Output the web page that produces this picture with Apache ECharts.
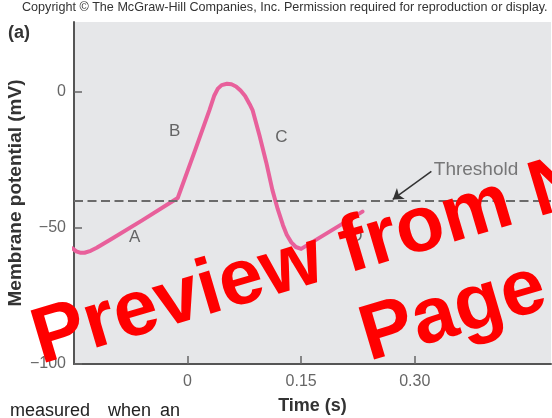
<!DOCTYPE html>
<html>
<head>
<meta charset="utf-8">
<script src="https://cdn.jsdelivr.net/npm/echarts@6/dist/echarts.min.js"></script>
<style>
  html, body { margin: 0; padding: 0; background: #fff; }
  #chart { width: 552px; height: 418px; }
</style>
</head>
<body>
<div id="chart"></div>
<script>
// action potential trace: time (s) and membrane potential (mV)
var times = [-0.152, -0.147, -0.142, -0.136, -0.128, -0.12, -0.10, -0.06, -0.013,
  0.01, 0.029, 0.035, 0.040, 0.045, 0.052, 0.058, 0.064, 0.070, 0.076, 0.082,
  0.086, 0.095, 0.104, 0.112, 0.119, 0.126, 0.131, 0.137, 0.143, 0.150, 0.231];
var potentials = [-57.5, -58.6, -59.1, -59.1, -58.4, -57.3, -54.0, -47.2, -39,
  -21.4, -6.6, -1.5, 1.2, 2.5, 3, 2.8, 2.0, 0.5, -1.5, -4.5,
  -6.8, -16, -26, -36, -43, -49, -52.5, -55.3, -57, -57.7, -44];

var threshold = -40;

// phase letters
var phaseNames = ['A', 'B', 'C', 'D'];
var phaseTimes = [-0.070, -0.017, 0.124, 0.223];
var phaseValues = [-53.3, -14.6, -16.8, -53];

// threshold callout
var calloutText = 'Threshold';
var calloutAt = [0.381, -28.5];
var arrowFrom = [0.322, -29.2];
var arrowTo = [0.271, -39.5];

var xTicks = [0, 0.15, 0.3];
var xTickLabels = ['0', '0.15', '0.30'];
var yTicks = [0, -50, -100];
var yTickLabels = ['0', '\u221250', '\u2212100'];

var font = '"Liberation Sans", Arial, Helvetica, sans-serif';

var trace = times.map(function (t, i) { return [t, potentials[i]]; });
var letters = phaseNames.map(function (n, i) {
  return { name: n, value: [phaseTimes[i], phaseValues[i]] };
});
letters.push({
  name: calloutText, value: calloutAt,
  label: { fontSize: 19, color: '#5a5a5a' }
});

var myChart = echarts.init(document.getElementById('chart'));

var option = {
  animation: false,
  textStyle: { fontFamily: font },
  grid: {
    left: 74, right: 1, top: 22, bottom: 54,
    containLabel: false,
    outerBoundsMode: 'none',
    show: true, backgroundColor: '#e6e7e9', borderWidth: 0
  },
  xAxis: {
    type: 'value',
    min: -0.15,
    max: 0.48,
    name: 'Time (s)',
    nameLocation: 'middle',
    nameGap: 33,
    nameMoveOverlap: false,
    nameTextStyle: { fontFamily: font, fontSize: 18, fontWeight: 'bold', color: '#333' },
    axisLine: { show: true, onZero: false, lineStyle: { color: '#555', width: 2 } },
    axisTick: { show: true, inside: true, length: 8, customValues: xTicks,
      lineStyle: { color: '#666', width: 1.5 } },
    axisLabel: {
      customValues: xTicks, color: '#666', fontSize: 16, margin: 10, fontFamily: font,
      formatter: function (v) { return xTickLabels[xTicks.indexOf(v)]; }
    },
    splitLine: { show: false }
  },
  yAxis: {
    type: 'value',
    min: -100,
    max: 25.7,
    name: 'Membrane potential (mV)',
    nameLocation: 'middle',
    nameGap: 49,
    nameMoveOverlap: false,
    nameRotate: 90,
    nameTextStyle: { fontFamily: font, fontSize: 19, fontWeight: 'bold', color: '#333' },
    axisLine: { show: true, onZero: false, lineStyle: { color: '#555', width: 2 } },
    axisTick: { show: true, inside: true, length: 8, customValues: yTicks,
      lineStyle: { color: '#666', width: 1.5 } },
    axisLabel: {
      customValues: yTicks, color: '#666', fontSize: 16, margin: 8, fontFamily: font,
      formatter: function (v) { return yTickLabels[yTicks.indexOf(v)]; }
    },
    splitLine: { show: false }
  },
  series: [
    {
      type: 'line',
      data: trace,
      smooth: false,
      symbol: 'none',
      lineStyle: { color: '#e8609b', width: 4, join: 'round', cap: 'round' },
      z: 3,
      markLine: {
        silent: true,
        symbol: ['none', 'none'],
        label: { show: false },
        data: [
          { yAxis: threshold, lineStyle: { type: [9, 4.5], color: '#6b6b6b', width: 2 } },
          [
            { coord: arrowFrom, symbol: 'none', lineStyle: { type: 'solid', color: '#333', width: 1.5 } },
            { coord: arrowTo, symbol: 'arrow', symbolSize: 10 }
          ]
        ]
      }
    },
    {
      type: 'scatter',
      data: letters,
      symbolSize: 0,
      silent: true,
      label: {
        show: true,
        position: 'inside',
        formatter: '{b}',
        fontFamily: font,
        fontSize: 17,
        color: '#444'
      }
    }
  ],
  graphic: [
    { type: 'text', x: 22, y: 8, style: {
      text: 'Copyright \u00a9 The McGraw-Hill Companies, Inc. Permission required for reproduction or display.',
      font: '12.6px ' + font, fill: '#333', textVerticalAlign: 'middle' } },
    { type: 'text', x: 8, y: 33, style: {
      text: '(a)', font: 'bold 18px ' + font, fill: '#333', textVerticalAlign: 'middle' } },
    { type: 'text', x: 10, y: 411, style: {
      text: 'measured', font: '18px ' + font, fill: '#222', textVerticalAlign: 'middle' } },
    { type: 'text', x: 108, y: 411, style: {
      text: 'when', font: '18px ' + font, fill: '#222', textVerticalAlign: 'middle' } },
    { type: 'text', x: 160, y: 411, style: {
      text: 'an', font: '18px ' + font, fill: '#222', textVerticalAlign: 'middle' } },
    { type: 'text', x: 46, y: 381, rotation: 16.5 * Math.PI / 180, z: 100, style: {
      text: 'Preview from N', font: 'bold 79px ' + font, fill: '#ff0000', textVerticalAlign: 'bottom' } },
    { type: 'text', x: 374, y: 378, rotation: 16.5 * Math.PI / 180, z: 100, style: {
      text: 'Page', font: 'bold 79px ' + font, fill: '#ff0000', textVerticalAlign: 'bottom' } }
  ]
};

myChart.setOption(option);
</script>
</body>
</html>
